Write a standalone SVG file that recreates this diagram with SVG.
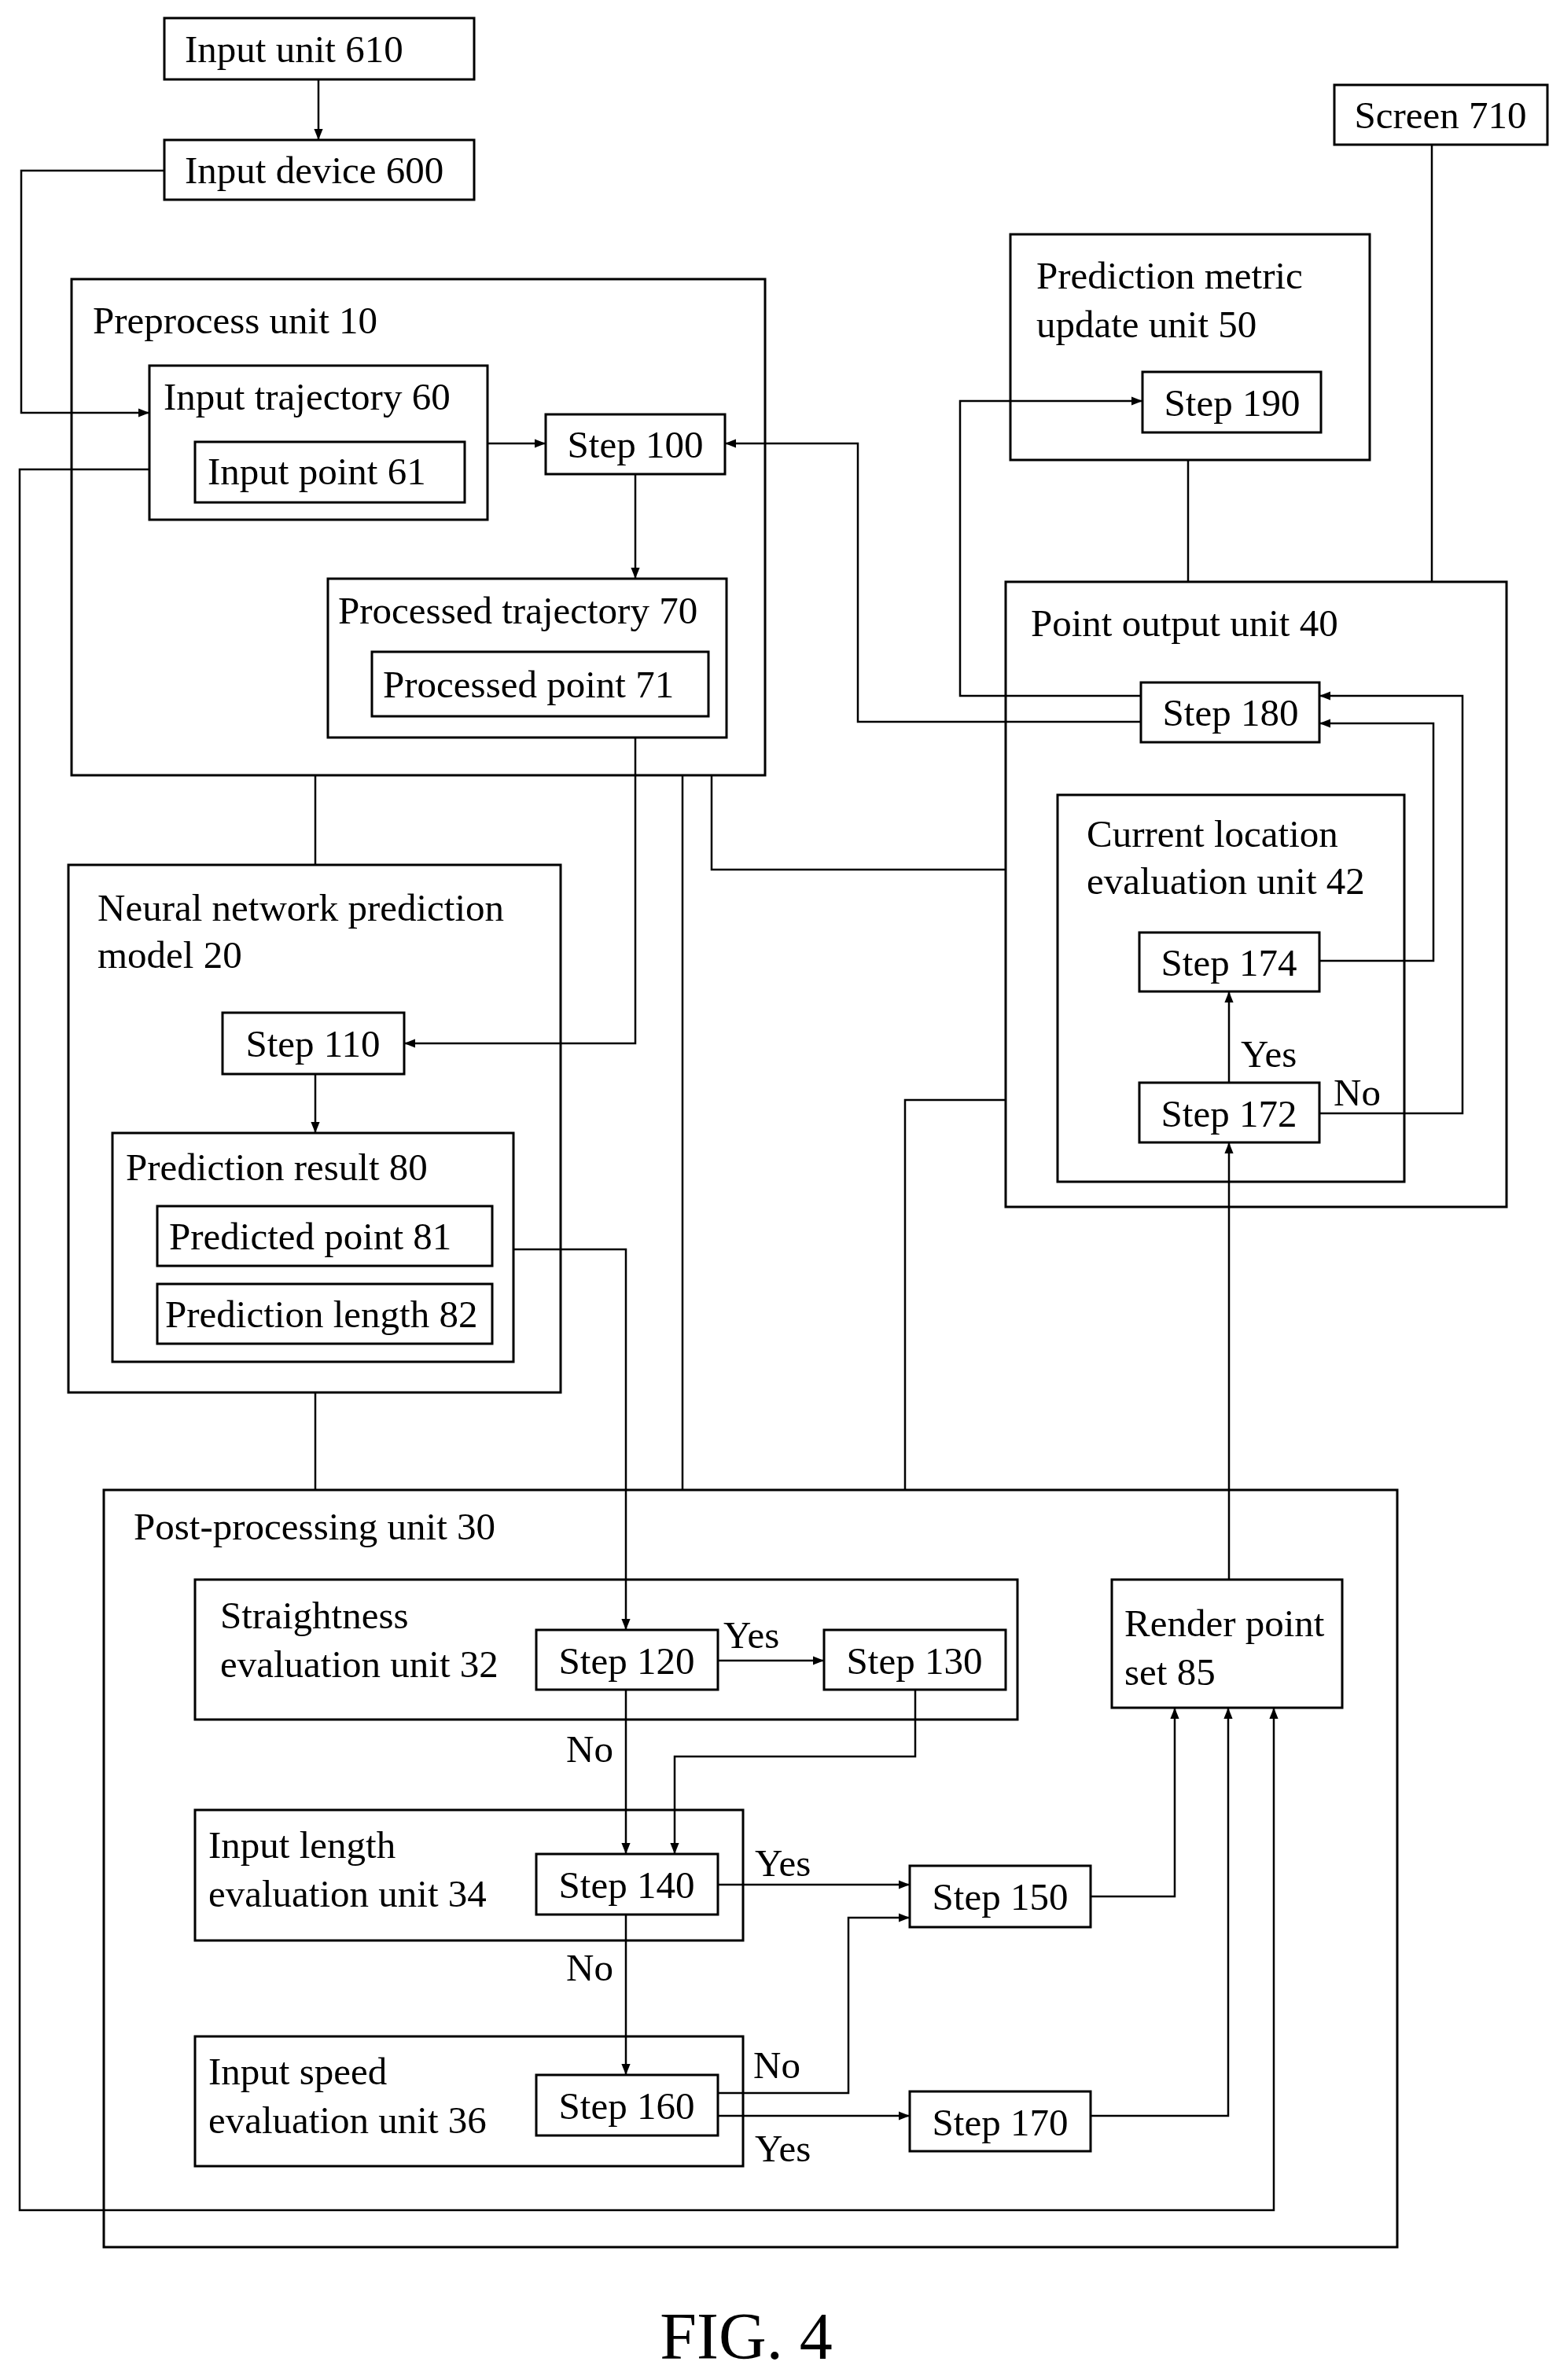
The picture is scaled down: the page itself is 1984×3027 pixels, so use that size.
<svg xmlns="http://www.w3.org/2000/svg" width="1984" height="3027" viewBox="0 0 1984 3027">
<style>
rect{fill:none;stroke:#000;stroke-width:3}
.c path{fill:none;stroke:#000;stroke-width:2.5}
text{font-family:"Liberation Serif",serif;font-size:49px;fill:#000}
.m{text-anchor:middle}
</style>
<defs><marker id="a" viewBox="0 0 10 10" refX="10" refY="5" markerWidth="14" markerHeight="14" markerUnits="userSpaceOnUse" orient="auto"><path d="M0,1L10,5L0,9z" fill="#000"/></marker></defs>
<rect width="1984" height="3027" style="fill:#fff;stroke:none"/>
<g id="n610"><rect x="209" y="23" width="394" height="78"/><text x="235" y="79">Input unit 610</text></g>
<g id="n600"><rect x="209" y="178" width="394" height="76"/><text x="235" y="233">Input device 600</text></g>
<g id="n10"><rect x="91" y="355" width="882" height="631"/><text x="118" y="424">Preprocess unit 10</text></g>
<g id="n60"><rect x="190" y="465" width="430" height="196"/><text x="208" y="521">Input trajectory 60</text></g>
<g id="n61"><rect x="248" y="562" width="343" height="77"/><text x="264" y="616">Input point 61</text></g>
<g id="s100"><rect x="694" y="527" width="228" height="76"/><text class="m" x="808" y="582">Step 100</text></g>
<g id="n70"><rect x="417" y="736" width="507" height="202"/><text x="430" y="793">Processed trajectory 70</text></g>
<g id="n71"><rect x="473" y="829" width="428" height="82"/><text x="487" y="887">Processed point 71</text></g>
<g id="n20"><rect x="87" y="1100" width="626" height="671"/><text x="124" y="1171">Neural network prediction</text><text x="124" y="1231">model 20</text></g>
<g id="s110"><rect x="283" y="1288" width="231" height="78"/><text class="m" x="398" y="1344">Step 110</text></g>
<g id="n80"><rect x="143" y="1441" width="510" height="291"/><text x="160" y="1501">Prediction result 80</text></g>
<g id="n81"><rect x="200" y="1534" width="426" height="76"/><text x="215" y="1589">Predicted point 81</text></g>
<g id="n82"><rect x="200" y="1633" width="426" height="76"/><text x="210" y="1688">Prediction length 82</text></g>
<g id="n710"><rect x="1697" y="108" width="271" height="76"/><text class="m" x="1832" y="163">Screen 710</text></g>
<g id="n50"><rect x="1285" y="298" width="457" height="287"/><text x="1318" y="367">Prediction metric</text><text x="1318" y="429">update unit 50</text></g>
<g id="s190"><rect x="1453" y="473" width="227" height="77"/><text class="m" x="1567" y="529">Step 190</text></g>
<g id="n40"><rect x="1279" y="740" width="637" height="795"/><text x="1311" y="809">Point output unit 40</text></g>
<g id="s180"><rect x="1451" y="868" width="227" height="76"/><text class="m" x="1565" y="923">Step 180</text></g>
<g id="n42"><rect x="1345" y="1011" width="441" height="492"/><text x="1382" y="1077">Current location</text><text x="1382" y="1137">evaluation unit 42</text></g>
<g id="s174"><rect x="1449" y="1186" width="229" height="75"/><text class="m" x="1563" y="1241">Step 174</text></g>
<g id="s172"><rect x="1449" y="1377" width="229" height="76"/><text class="m" x="1563" y="1433">Step 172</text></g>
<g id="n30"><rect x="132" y="1895" width="1645" height="963"/><text x="170" y="1958">Post-processing unit 30</text></g>
<g id="n85"><rect x="1414" y="2009" width="293" height="163"/><text x="1430" y="2081">Render point</text><text x="1430" y="2143">set 85</text></g>
<g id="n32"><rect x="248" y="2009" width="1046" height="178"/><text x="280" y="2071">Straightness</text><text x="280" y="2133">evaluation unit 32</text></g>
<g id="s120"><rect x="682" y="2073" width="231" height="76"/><text class="m" x="797" y="2129">Step 120</text></g>
<g id="s130"><rect x="1048" y="2073" width="231" height="76"/><text class="m" x="1163" y="2129">Step 130</text></g>
<g id="n34"><rect x="248" y="2302" width="697" height="166"/><text x="265" y="2363">Input length</text><text x="265" y="2425">evaluation unit 34</text></g>
<g id="s140"><rect x="682" y="2358" width="231" height="77"/><text class="m" x="797" y="2414">Step 140</text></g>
<g id="s150"><rect x="1157" y="2373" width="230" height="78"/><text class="m" x="1272" y="2429">Step 150</text></g>
<g id="n36"><rect x="248" y="2590" width="697" height="165"/><text x="265" y="2651">Input speed</text><text x="265" y="2713">evaluation unit 36</text></g>
<g id="s160"><rect x="682" y="2639" width="231" height="77"/><text class="m" x="797" y="2695">Step 160</text></g>
<g id="s170"><rect x="1157" y="2660" width="230" height="76"/><text class="m" x="1272" y="2716">Step 170</text></g>
<g class="c" id="connectors">
<path d="M405,101V178" marker-end="url(#a)"/>
<path d="M209,217H27V525H190" marker-end="url(#a)"/>
<path d="M620,564H694" marker-end="url(#a)"/>
<path d="M190,597H25V2811H1620V2172" marker-end="url(#a)"/>
<path d="M808,603V736" marker-end="url(#a)"/>
<path d="M1451,918H1091V564H922" marker-end="url(#a)"/>
<path d="M1451,885H1221V510H1453" marker-end="url(#a)"/>
<path d="M808,938V1327H514" marker-end="url(#a)"/>
<path d="M401,986V1100"/>
<path d="M401,1366V1441" marker-end="url(#a)"/>
<path d="M653,1589H796V2073" marker-end="url(#a)"/>
<path d="M401,1771V1895"/>
<path d="M868,986V1895"/>
<path d="M905,986V1106H1279"/>
<path d="M1151,1895V1399H1279"/>
<path d="M1821,184V740"/>
<path d="M1511,585V740"/>
<path d="M1563,1377V1261" marker-end="url(#a)"/>
<path d="M1678,1222H1823V920H1678" marker-end="url(#a)"/>
<path d="M1678,1416H1860V885H1678" marker-end="url(#a)"/>
<path d="M1563,2009V1453" marker-end="url(#a)"/>
<path d="M913,2112H1048" marker-end="url(#a)"/>
<path d="M796,2149V2358" marker-end="url(#a)"/>
<path d="M1164,2149V2234H858V2358" marker-end="url(#a)"/>
<path d="M913,2397H1157" marker-end="url(#a)"/>
<path d="M1387,2412H1494V2172" marker-end="url(#a)"/>
<path d="M796,2435V2639" marker-end="url(#a)"/>
<path d="M913,2662H1079V2439H1157" marker-end="url(#a)"/>
<path d="M913,2691H1157" marker-end="url(#a)"/>
<path d="M1387,2691H1562V2172" marker-end="url(#a)"/>
</g>
<g id="labels">
<text x="1578" y="1357">Yes</text>
<text x="1696" y="1406">No</text>
<text x="920" y="2096">Yes</text>
<text x="720" y="2241">No</text>
<text x="960" y="2386">Yes</text>
<text x="720" y="2519">No</text>
<text x="958" y="2643">No</text>
<text x="960" y="2749">Yes</text>
</g>
<text class="m" x="949" y="3000" style="font-size:84px">FIG. 4</text>
</svg>
